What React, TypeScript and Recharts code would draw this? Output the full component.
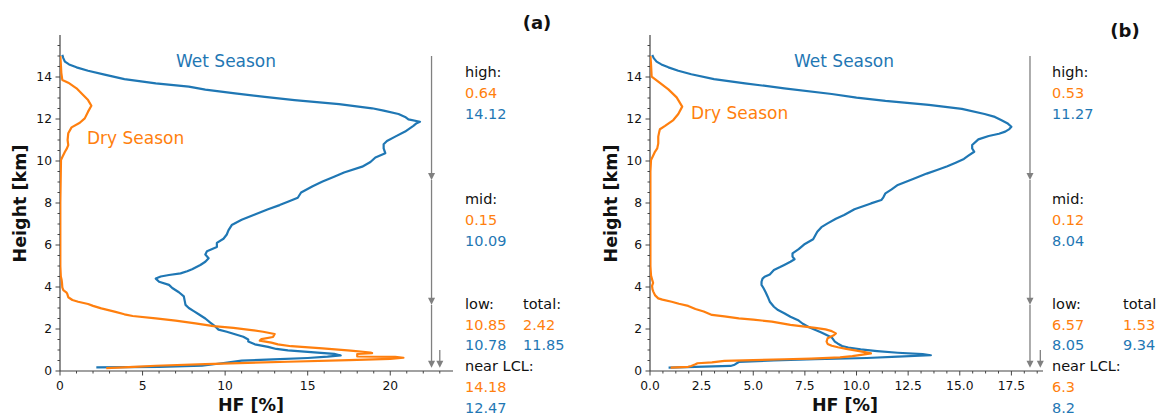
import React from "react";
import { ScatterChart, Scatter, XAxis, YAxis, ReferenceLine } from "recharts";

// ==================== Colours / fonts ====================

const BLUE = "#1f77b4";
const ORANGE = "#ff7f0e";
const GREY = "#808080";
const AXIS = "#444444";
const TEXT = "#111111";
const FONT = "DejaVu Sans";

// ==================== Data: panel (a) ====================

// wet season profile, bottom -> top (height km, HF %)
const wetA_h = [0.17, 0.2, 0.25, 0.37, 0.49, 0.55, 0.62, 0.68, 0.74, 0.82, 0.9, 0.98, 1.05, 1.15, 1.27, 1.4, 1.5, 1.63, 1.75, 1.87, 1.97, 2.12, 2.3, 2.5, 2.7, 2.85, 3.0, 3.15, 3.35, 3.55, 3.75, 3.95, 4.1, 4.25, 4.4, 4.5, 4.57, 4.65, 4.75, 4.85, 5.05, 5.2, 5.37, 5.55, 5.7, 5.9, 6.1, 6.3, 6.5, 6.7, 6.95, 7.2, 7.45, 7.7, 7.9, 8.06, 8.25, 8.5, 8.8, 9.02, 9.25, 9.45, 9.73, 9.95, 10.17, 10.37, 10.6, 10.8, 10.95, 11.16, 11.4, 11.67, 11.8, 11.87, 11.98, 12.1, 12.24, 12.4, 12.51, 12.71, 12.9, 13.05, 13.22, 13.4, 13.54, 13.7, 13.9, 14.11, 14.3, 14.46, 14.6, 14.73, 14.9, 15.05];
const wetA_hf = [2.2, 6.0, 8.6, 9.8, 11.0, 12.9, 15.0, 16.2, 17.0, 16.6, 15.2, 13.8, 13.1, 12.6, 11.8, 11.4, 11.4, 11.1, 10.6, 10.1, 9.6, 9.4, 9.1, 8.8, 8.4, 8.1, 7.8, 7.6, 7.55, 7.5, 7.2, 6.8, 6.6, 6.0, 5.8, 6.1, 6.6, 7.3, 7.7, 8.0, 8.5, 8.8, 9.0, 8.8, 8.9, 9.5, 9.5, 9.9, 10.1, 10.2, 10.4, 11.0, 11.8, 12.6, 13.3, 13.8, 14.4, 14.6, 15.3, 15.9, 16.6, 17.2, 18.3, 18.8, 19.1, 19.7, 19.6, 19.6, 19.8, 20.3, 20.9, 21.4, 21.6, 21.8, 21.1, 20.9, 20.5, 19.6, 18.9, 16.9, 14.2, 12.4, 10.6, 8.8, 7.8, 5.8, 3.9, 2.7, 1.7, 1.0, 0.55, 0.3, 0.2, 0.14];

// dry season profile, bottom -> top
const dryA_h = [0.14, 0.2, 0.25, 0.33, 0.44, 0.52, 0.58, 0.63, 0.67, 0.69, 0.75, 0.81, 0.85, 0.88, 0.97, 1.08, 1.18, 1.27, 1.35, 1.45, 1.52, 1.62, 1.76, 1.87, 1.95, 2.05, 2.14, 2.27, 2.4, 2.51, 2.62, 2.7, 2.83, 2.98, 3.1, 3.19, 3.3, 3.38, 3.51, 3.65, 3.73, 3.85, 3.98, 4.2, 4.33, 4.5, 5.0, 6.0, 8.0, 10.05, 10.2, 10.44, 10.6, 10.76, 11.0, 11.32, 11.6, 11.82, 12.03, 12.35, 12.63, 12.9, 13.14, 13.46, 13.73, 13.86, 14.2, 14.5, 15.0];
const dryA_hf = [2.8, 4.5, 5.8, 8.8, 13.8, 17.5, 20.0, 20.8, 20.3, 18.0, 18.0, 18.0, 18.9, 18.8, 17.6, 15.9, 14.0, 13.2, 12.8, 12.1, 12.2, 12.9, 13.0, 12.3, 11.6, 10.5, 9.3, 8.2, 7.0, 5.8, 4.4, 3.9, 3.3, 2.5, 2.0, 1.7, 1.1, 0.75, 0.5, 0.45, 0.4, 0.2, 0.14, 0.12, 0.1, 0.05, 0.02, 0.02, 0.02, 0.06, 0.15, 0.3, 0.42, 0.5, 0.46, 0.5, 0.7, 1.2, 1.5, 1.7, 1.9, 1.7, 1.4, 1.0, 0.5, 0.14, 0.08, 0.06, 0.02];

// ==================== Data: panel (b) ====================

const wetB_h = [0.16, 0.2, 0.24, 0.3, 0.43, 0.5, 0.56, 0.62, 0.68, 0.75, 0.8, 0.87, 0.95, 1.03, 1.12, 1.19, 1.3, 1.4, 1.6, 1.83, 2.08, 2.25, 2.4, 2.58, 2.75, 2.9, 3.06, 3.3, 3.54, 3.75, 3.94, 4.1, 4.25, 4.4, 4.49, 4.6, 4.81, 4.95, 5.05, 5.2, 5.32, 5.45, 5.6, 5.8, 6.05, 6.27, 6.45, 6.63, 6.85, 7.03, 7.25, 7.43, 7.7, 7.98, 8.14, 8.27, 8.46, 8.65, 8.86, 9.17, 9.4, 9.57, 9.75, 9.92, 10.1, 10.24, 10.44, 10.6, 10.76, 11.03, 11.19, 11.3, 11.4, 11.52, 11.63, 11.8, 11.95, 12.1, 12.24, 12.48, 12.67, 12.86, 13.02, 13.19, 13.46, 13.7, 13.9, 14.13, 14.3, 14.46, 14.6, 14.73, 14.9, 15.05];
const wetB_hf = [0.9, 2.2, 3.9, 4.1, 4.3, 6.0, 8.0, 10.5, 12.0, 13.6, 13.2, 12.0, 11.0, 10.2, 9.6, 9.3, 9.1, 8.95, 8.8, 8.3, 7.7, 7.4, 7.2, 6.8, 6.5, 6.2, 6.0, 5.8, 5.7, 5.6, 5.5, 5.4, 5.4, 5.45, 5.55, 5.8, 6.0, 6.3, 6.5, 6.8, 7.0, 6.9, 6.9, 7.2, 7.5, 7.9, 8.0, 8.1, 8.3, 8.6, 9.0, 9.4, 9.9, 10.7, 11.2, 11.3, 11.4, 11.7, 12.0, 12.8, 13.4, 13.9, 14.4, 14.8, 15.2, 15.4, 15.7, 15.6, 15.6, 15.9, 16.4, 16.9, 17.2, 17.4, 17.5, 17.3, 17.0, 16.7, 16.2, 15.1, 13.5, 11.4, 10.0, 8.8, 6.5, 4.6, 3.1, 2.0, 1.37, 0.89, 0.55, 0.32, 0.18, 0.11];

const dryB_h = [0.16, 0.2, 0.24, 0.32, 0.37, 0.41, 0.48, 0.52, 0.56, 0.59, 0.65, 0.71, 0.78, 0.84, 0.9, 0.97, 1.05, 1.13, 1.2, 1.29, 1.4, 1.56, 1.7, 1.79, 1.9, 1.98, 2.05, 2.11, 2.2, 2.35, 2.45, 2.51, 2.6, 2.67, 2.75, 2.83, 2.95, 3.1, 3.2, 3.3, 3.4, 3.46, 3.6, 3.78, 3.9, 4.05, 4.2, 4.33, 4.54, 5.0, 7.0, 9.5, 10.05, 10.25, 10.44, 10.6, 10.84, 11.16, 11.4, 11.51, 11.67, 11.95, 12.24, 12.59, 13.03, 13.41, 13.78, 14.02, 14.6, 15.0];
const dryB_hf = [1.0, 1.85, 2.0, 2.2, 2.3, 3.0, 3.6, 5.0, 6.5, 7.8, 9.2, 9.8, 10.3, 10.7, 10.4, 10.0, 9.5, 9.1, 8.8, 8.6, 8.55, 8.6, 8.9, 9.0, 8.8, 8.5, 8.0, 7.5, 6.8, 5.9, 5.0, 4.3, 3.6, 3.0, 2.8, 2.6, 2.2, 1.85, 1.4, 1.05, 0.6, 0.4, 0.25, 0.16, 0.12, 0.1, 0.15, 0.11, 0.05, 0.02, 0.02, 0.02, 0.05, 0.15, 0.24, 0.35, 0.4, 0.4, 0.45, 0.48, 0.73, 1.13, 1.37, 1.56, 1.29, 0.89, 0.4, 0.08, 0.05, 0.02];

// ==================== Layer arrows (x in HF, from/to height) ====================

const arrowsA_x = [22.5, 22.5, 22.5, 23.0];
const arrowsB_x = [18.4, 18.4, 18.4, 18.9];
const arrows_from = [15.0, 9.1, 3.15, 1.0];
const arrows_to = [9.1, 3.15, 0.15, 0.15];

// ==================== Annotations ====================

const layerLabels = ["high:", "mid:", "low:", "near LCL:"];
const dryA_vals = ["0.64", "0.15", "10.85", "14.18"];
const wetA_vals = ["14.12", "10.09", "10.78", "12.47"];
const dryB_vals = ["0.53", "0.12", "6.57", "6.3"];
const wetB_vals = ["11.27", "8.04", "8.05", "8.2"];
const totalA = ["total:", "2.42", "11.85"];
const totalB = ["total", "1.53", "9.34"];
const layerBaselines = [77, 204, 308.5, 371];

// ==================== Ticks ====================

const yTicks = [0, 0.5, 1, 1.5, 2, 2.5, 3, 3.5, 4, 4.5, 5, 5.5, 6, 6.5, 7, 7.5, 8, 8.5, 9, 9.5, 10, 10.5, 11, 11.5, 12, 12.5, 13, 13.5, 14, 14.5, 15, 15.5];
const yMajor = [0, 2, 4, 6, 8, 10, 12, 14];
const xTicksA = [0, 1, 2, 3, 4, 5, 6, 7, 8, 9, 10, 11, 12, 13, 14, 15, 16, 17, 18, 19, 20, 21, 22, 23];
const xMajorA = [0, 5, 10, 15, 20];
const xTicksB = [0, 0.625, 1.25, 1.875, 2.5, 3.125, 3.75, 4.375, 5, 5.625, 6.25, 6.875, 7.5, 8.125, 8.75, 9.375, 10, 10.625, 11.25, 11.875, 12.5, 13.125, 13.75, 14.375, 15, 15.625, 16.25, 16.875, 17.5, 18.125, 18.75];
const xMajorB = [0, 2.5, 5, 7.5, 10, 12.5, 15, 17.5];

// ==================== Helpers ====================

const zip = (h: number[], v: number[]) => h.map((y, i) => ({ x: v[i], y }));
const isIn = (list: number[], v: number) => list.some((m) => Math.abs(m - v) < 1e-6);

const makeXTick = (majors: number[], digits: number) => (props: any) => {
    const { x, y, payload } = props;
    const major = isIn(majors, payload.value);
    return (
        <g>
            <line x1={x} x2={x} y1={y} y2={y + (major ? 4.5 : 2.5)} stroke={AXIS} strokeWidth={1} />
            {major && (
                <text x={x} y={y + 19} textAnchor="middle" fontSize={12.3} fontFamily={FONT} fill={TEXT}>
                    {payload.value.toFixed(digits)}
                </text>
            )}
        </g>
    );
};

const YTick = (props: any) => {
    const { x, y, payload } = props;
    const major = isIn(yMajor, payload.value);
    return (
        <g>
            <line x1={x - (major ? 4.5 : 2.5)} x2={x} y1={y} y2={y} stroke={AXIS} strokeWidth={1} />
            {major && (
                <text x={x - 8} y={y + 4.3} textAnchor="end" fontSize={12.3} fontFamily={FONT} fill={TEXT}>
                    {payload.value}
                </text>
            )}
        </g>
    );
};

const ArrowShape = (props: any) => {
    const { x1, y1, x2, y2 } = props;
    return (
        <g>
            <line x1={x1} y1={y1} x2={x2} y2={y2 - 5} stroke={GREY} strokeWidth={1.3} />
            <polygon points={`${x2 - 3.5},${y2 - 7} ${x2 + 3.5},${y2 - 7} ${x2},${y2}`} fill={GREY} />
        </g>
    );
};

// ==================== Panel ====================

interface PanelProps {
    left: number;
    width: number;
    marginRight: number;
    xMax: number;
    xTicks: number[];
    xMajor: number[];
    digits: number;
    wet: { x: number; y: number }[];
    dry: { x: number; y: number }[];
    arrowsX: number[];
}

const Panel: React.FC<PanelProps> = ({ left, width, marginRight, xMax, xTicks, xMajor, digits, wet, dry, arrowsX }) => (
    <div style={{ position: "absolute", left, top: 0 }}>
        <ScatterChart width={width} height={418} margin={{ top: 35, right: marginRight, bottom: 17, left: 0 }}>
            <XAxis
                type="number"
                dataKey="x"
                domain={[0, xMax]}
                allowDataOverflow
                ticks={xTicks}
                interval={0}
                tick={makeXTick(xMajor, digits)}
                tickLine={false}
                tickSize={0}
                tickMargin={0}
                height={30}
                axisLine={{ stroke: AXIS, strokeWidth: 1.2 }}
            />
            <YAxis
                type="number"
                dataKey="y"
                domain={[0, 16]}
                allowDataOverflow
                ticks={yTicks}
                interval={0}
                tick={YTick}
                tickLine={false}
                tickSize={0}
                tickMargin={0}
                width={60}
                axisLine={{ stroke: AXIS, strokeWidth: 1.2 }}
            />
            {arrowsX.map((ax, i) => (
                <ReferenceLine
                    key={`arrow-${i}`}
                    segment={[{ x: ax, y: arrows_from[i] }, { x: ax, y: arrows_to[i] }]}
                    shape={ArrowShape}
                />
            ))}
            <Scatter
                data={wet}
                fill={BLUE}
                line={{ stroke: BLUE, strokeWidth: 2.2, strokeLinejoin: "round" }}
                lineType="joint"
                shape={() => <g />}
                isAnimationActive={false}
            />
            <Scatter
                data={dry}
                fill={ORANGE}
                line={{ stroke: ORANGE, strokeWidth: 2.2, strokeLinejoin: "round" }}
                lineType="joint"
                shape={() => <g />}
                isAnimationActive={false}
            />
        </ScatterChart>
    </div>
);

// ==================== Text overlay ====================

const Stats: React.FC<{ x: number; xTotal: number; dry: string[]; wet: string[]; total: string[] }> = ({ x, xTotal, dry, wet, total }) => (
    <g fontFamily={FONT} fontSize={14.5}>
        {layerLabels.map((lab, i) => (
            <g key={lab}>
                <text x={x} y={layerBaselines[i]} fill={TEXT}>{lab}</text>
                <text x={x} y={layerBaselines[i] + 21} fill={ORANGE}>{dry[i]}</text>
                <text x={x} y={layerBaselines[i] + 41.5} fill={BLUE}>{wet[i]}</text>
            </g>
        ))}
        <text x={xTotal} y={layerBaselines[2]} fill={TEXT}>{total[0]}</text>
        <text x={xTotal} y={layerBaselines[2] + 21} fill={ORANGE}>{total[1]}</text>
        <text x={xTotal} y={layerBaselines[2] + 41.5} fill={BLUE}>{total[2]}</text>
    </g>
);

// ==================== App ====================

const App: React.FC = () => (
    <div style={{ position: "absolute", left: 0, top: 0, width: 1164, height: 418, background: "#fff" }}>
        <Panel
            left={0}
            width={580}
            marginRight={127}
            xMax={23.8}
            xTicks={xTicksA}
            xMajor={xMajorA}
            digits={0}
            wet={zip(wetA_h, wetA_hf)}
            dry={zip(dryA_h, dryA_hf)}
            arrowsX={arrowsA_x}
        />
        <Panel
            left={590}
            width={574}
            marginRight={121}
            xMax={19.03}
            xTicks={xTicksB}
            xMajor={xMajorB}
            digits={1}
            wet={zip(wetB_h, wetB_hf)}
            dry={zip(dryB_h, dryB_hf)}
            arrowsX={arrowsB_x}
        />
        <svg width={1164} height={418} style={{ position: "absolute", left: 0, top: 0, pointerEvents: "none" }}>
            <g fontFamily={FONT}>
                <text x={537} y={29} textAnchor="middle" fontSize={18} fontWeight="bold" fill={TEXT}>(a)</text>
                <text x={1125} y={37} textAnchor="middle" fontSize={18} fontWeight="bold" fill={TEXT}>(b)</text>

                <text x={176} y={67} fontSize={17} fill={BLUE}>Wet Season</text>
                <text x={87} y={144} fontSize={17} fill={ORANGE}>Dry Season</text>
                <text x={794} y={67} fontSize={17} fill={BLUE}>Wet Season</text>
                <text x={691} y={119} fontSize={17} fill={ORANGE}>Dry Season</text>

                <text x={251} y={411} textAnchor="middle" fontSize={17.5} fontWeight="bold" fill={TEXT}>HF [%]</text>
                <text x={845} y={411} textAnchor="middle" fontSize={17.5} fontWeight="bold" fill={TEXT}>HF [%]</text>
                <text x={26} y={203.5} textAnchor="middle" fontSize={17.5} fontWeight="bold" fill={TEXT} transform="rotate(-90 26 203.5)">Height [km]</text>
                <text x={616.5} y={203.5} textAnchor="middle" fontSize={17.5} fontWeight="bold" fill={TEXT} transform="rotate(-90 616.5 203.5)">Height [km]</text>
            </g>
            <Stats x={465} xTotal={523} dry={dryA_vals} wet={wetA_vals} total={totalA} />
            <Stats x={1052} xTotal={1123} dry={dryB_vals} wet={wetB_vals} total={totalB} />
        </svg>
    </div>
);

export default App;
